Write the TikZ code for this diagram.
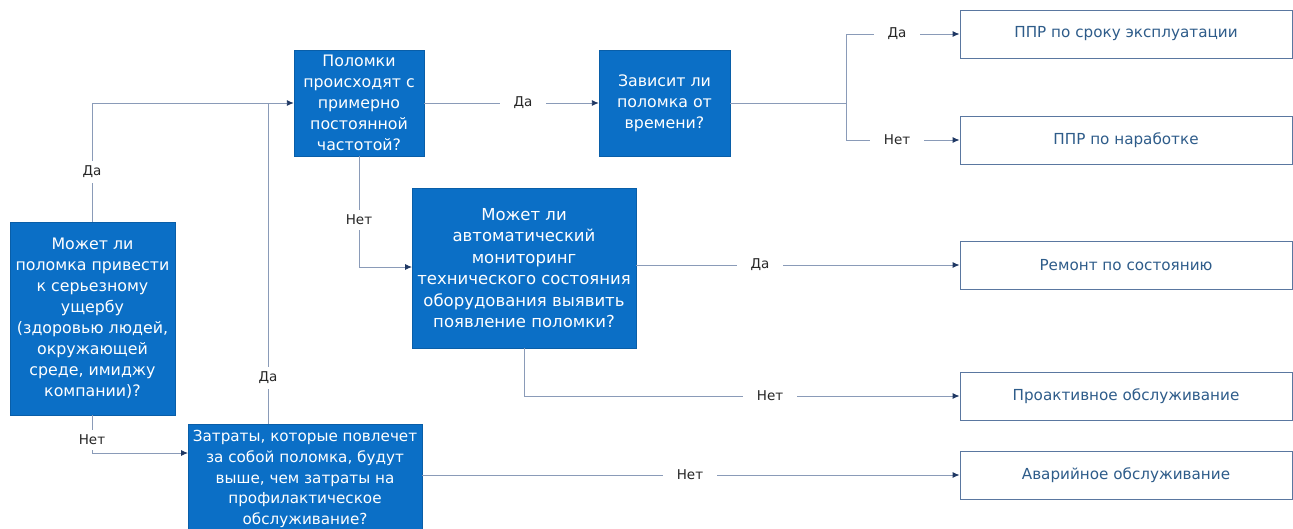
\documentclass[tikz,border=0pt]{standalone}
\usepackage{fontspec}
\setmainfont{DejaVu Sans}
\usetikzlibrary{arrows.meta}
\definecolor{boxblue}{HTML}{0B6FC6}
\definecolor{linec}{HTML}{8A9BB8}
\definecolor{outc}{HTML}{5A77A0}
\definecolor{txtc}{HTML}{2E5C8A}
\definecolor{tipc}{HTML}{1F3864}
\tikzset{
  qbox/.style={fill=boxblue, draw=boxblue!85!black, text=white, align=center, inner sep=0pt,
    font=\fontsize{15.8}{21}\selectfont},
  rbox/.style={fill=white, draw=outc, line width=0.9pt, text=txtc, align=center, inner sep=0pt,
    minimum width=332pt, minimum height=48pt, font=\fontsize{15.2}{18}\selectfont},
  lbl/.style={fill=white, text=black!85, inner xsep=14pt, inner ysep=5pt, font=\fontsize{13.5}{15}\selectfont},
  ln/.style={draw=linec, line width=0.9pt},
  arr/.style={ln, -{Latex[length=7pt,width=6pt,color=tipc]}}
}
\begin{document}
\begin{tikzpicture}[x=1pt,y=-1pt]
\useasboundingbox (0,0) rectangle (1293,528);
\clip (0,0) rectangle (1293,528);
% question boxes
\node[qbox, minimum width=165pt, minimum height=193pt] (A) at (92.5,318.5)
  {Может ли\\поломка привести\\к серьезному\\ущербу\\(здоровью людей,\\окружающей\\среде, имиджу\\компании)?};
\node[qbox, minimum width=130pt, minimum height=106pt] (B) at (359,103)
  {Поломки\\происходят с\\примерно\\постоянной\\частотой?};
\node[qbox, minimum width=131pt, minimum height=106pt] (C) at (664.5,103)
  {Зависит ли\\поломка от\\времени?};
\node[qbox, minimum width=224pt, minimum height=160pt, font=\fontsize{16.5}{21.4}\selectfont] (D) at (524,268)
  {Может ли\\автоматический\\мониторинг\\технического состояния\\оборудования выявить\\появление поломки?};
\node[qbox, minimum width=234pt, minimum height=110pt, font=\fontsize{15.2}{20.6}\selectfont] (E) at (305,479)
  {Затраты, которые повлечет\\за собой поломка, будут\\выше, чем затраты на\\профилактическое\\обслуживание?};
% result boxes
\node[rbox] (R1) at (1126,34) {ППР по сроку эксплуатации};
\node[rbox] (R2) at (1126,140) {ППР по наработке};
\node[rbox] (R3) at (1126,265) {Ремонт по состоянию};
\node[rbox] (R4) at (1126,396) {Проактивное обслуживание};
\node[rbox] (R5) at (1126,475) {Аварийное обслуживание};
% coordinates
\coordinate (ej) at (268,103);
\coordinate (sp) at (846,103);
\coordinate (ein) at (188,453);
\coordinate (eout) at (422,475);
\coordinate (din) at (412,267);
\coordinate (dout) at (636,265);
% connectors
\draw[arr] (A.north) |- (B.west);
\draw[ln] (E.north -| ej) -- (ej);
\draw[arr] (A.south) |- (ein);
\draw[arr] (B.east) -- (C.west);
\draw[arr] (B.south) |- (din);
\draw[ln] (C.east) -- (sp);
\draw[arr] (sp) |- (R1.west);
\draw[arr] (sp) |- (R2.west);
\draw[arr] (dout) -- (R3.west);
\draw[arr] (D.south) |- (R4.west);
\draw[arr] (eout) -- (R5.west);
% labels
\node[lbl] (l1) at (92,172) {Да};
\node[lbl] (l2) at (92,440) {Нет};
\node[lbl] (l3) at (268,378) {Да};
\node[lbl] (l4) at (523,103) {Да};
\node[lbl] (l5) at (359,220) {Нет};
\node[lbl] (l6) at (897,34) {Да};
\node[lbl] (l7) at (897,140) {Нет};
\node[lbl] (l8) at (760,265) {Да};
\node[lbl] (l9) at (770,396) {Нет};
\node[lbl] (l10) at (690,475) {Нет};
\end{tikzpicture}
\end{document}
